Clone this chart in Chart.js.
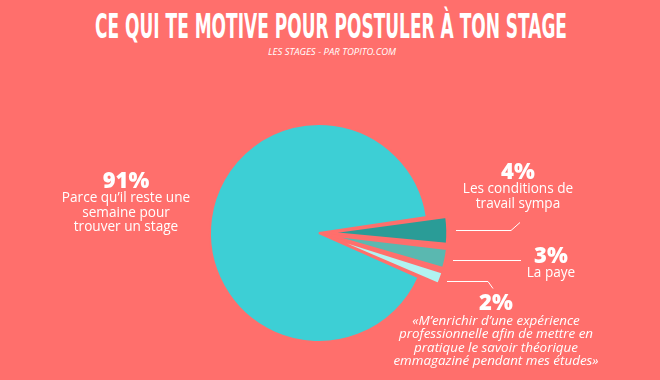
<!DOCTYPE html>
<html>
<head>
<meta charset="utf-8">
<script src="https://cdn.jsdelivr.net/npm/chart.js@4/dist/chart.umd.min.js"></script>
<style>
  html, body { margin: 0; padding: 0; }
  body {
    width: 660px; height: 380px; overflow: hidden; position: relative;
    background: #ff6f6c; color: #fff; font-family: "Open Sans", sans-serif;
  }
  #title {
    position: absolute; left: 95px; top: 9px; white-space: nowrap;
    font-family: "Liberation Sans Narrow", "DejaVu Sans Condensed", sans-serif;
    font-weight: bold; font-size: 34px; line-height: 34px; transform-origin: 0 0;
  }
  #subtitle {
    position: absolute; left: 0; width: 664px; top: 47px; text-align: center;
    font-size: 9.5px; line-height: 10px; font-style: italic;
  }
  #box { position: absolute; left: 0; top: 0; width: 660px; height: 380px; }
  .lbl { position: absolute; transform: translateX(-50%); text-align: center; white-space: nowrap; }
  .pct { font-weight: 800; font-size: 22px; line-height: 22px; }
  .txt { font-size: 13.6px; line-height: 14.5px; }
  .txt.quote { font-style: italic; font-size: 13.4px; line-height: 13.4px; margin-top: 2px; }
</style>
</head>
<body>
<div id="title">CE QUI TE MOTIVE POUR POSTULER À TON STAGE</div>
<div id="subtitle">LES STAGES - PAR TOPITO.COM</div>
<div id="box"><canvas id="pieChart"></canvas></div>
<div id="labels"></div>
<script>
// ===== Données =====
const categories = [
  ["Parce qu’il reste une", "semaine pour", "trouver un stage"],
  ["Les conditions de", "travail sympa"],
  ["La paye"],
  ["«M’enrichir d’une expérience", "professionnelle afin de mettre en", "pratique le savoir théorique", "emmagaziné pendant mes études»"],
];
const values = [91, 4, 3, 2];
const colors = ["#3dcfd5", "#2a9c97", "#5ab8b0", "#b1f3f1"];

// ===== Mise en page =====
const bg = "#ff6f6c";
const sliceOffset = [0, 44, 44, 44]; // Chart.js v4 : décalage réel = offset / 4
const labelPos = [
  { x: 126, y: 168 },
  { x: 518, y: 159 },
  { x: 551, y: 243 },
  { x: 496, y: 290 },
];
// longueur du trait horizontal + petit coude
const leaders = [null, { len: 55, dx: 9, dy: -8 }, { len: 68, dx: 0, dy: 0 }, { len: 41, dx: 5, dy: 7 }];

// titre compressé façon "condensed"
(function fitTitle() {
  const t = document.getElementById("title");
  const w = t.getBoundingClientRect().width;
  t.style.transform = "scaleX(" + (472 / w) + ")";
})();

// étiquettes
const labelsEl = document.getElementById("labels");
values.forEach((v, i) => {
  const d = document.createElement("div");
  d.className = "lbl";
  d.style.left = labelPos[i].x + "px";
  d.style.top = labelPos[i].y + "px";
  d.innerHTML =
    `<div class="pct">${v}%</div>` +
    `<div class="txt${i === 3 ? " quote" : ""}">${categories[i].join("<br>")}</div>`;
  labelsEl.appendChild(d);
});

// traits de rappel
const leaderLines = {
  id: "leaderLines",
  afterDatasetsDraw(chart) {
    const meta = chart.getDatasetMeta(0);
    const ctx = chart.ctx;
    ctx.save();
    ctx.strokeStyle = "#ffffff";
    ctx.lineWidth = 1;
    leaders.forEach((l, i) => {
      if (!l) return;
      const arc = meta.data[i];
      const a = (arc.startAngle + arc.endAngle) / 2;
      const r = arc.outerRadius + sliceOffset[i] / 2 + 6;
      const x0 = Math.round(arc.x + Math.cos(a) * r);
      const y0 = Math.round(arc.y + Math.sin(a) * r) + 0.5;
      ctx.beginPath();
      ctx.moveTo(x0, y0);
      ctx.lineTo(x0 + l.len, y0);
      if (l.dx || l.dy) ctx.lineTo(x0 + l.len + l.dx, y0 + l.dy);
      ctx.stroke();
    });
    ctx.restore();
  },
};

// ===== Camembert =====
new Chart(document.getElementById("pieChart"), {
  type: "pie",
  data: {
    labels: categories,
    datasets: [
      {
        data: values,
        backgroundColor: colors,
        borderColor: bg,
        borderWidth: 2,
        offset: sliceOffset,
      },
    ],
  },
  options: {
    responsive: true,
    maintainAspectRatio: false,
    animation: false,
    events: [],
    radius: 109,
    rotation: 114,
    layout: { padding: { top: 86, right: 22, left: 0, bottom: 0 } },
    plugins: { legend: { display: false }, tooltip: { enabled: false } },
  },
  plugins: [leaderLines],
});
</script>
</body>
</html>
